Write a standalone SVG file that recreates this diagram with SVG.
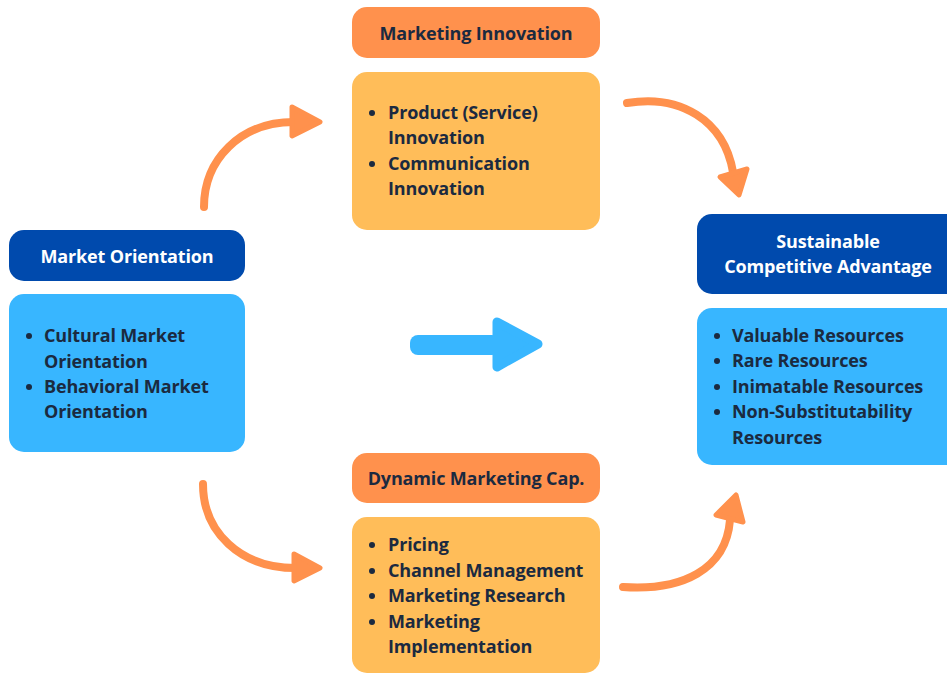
<svg xmlns="http://www.w3.org/2000/svg" width="947" height="675" viewBox="0 0 947 675">
  <defs>
    <style>
      .t { font-family: "Open Sans", "Liberation Sans", sans-serif; font-weight: 700; font-size: 18px; letter-spacing: -0.15px; }
      .dark { fill: #1B2A40; }
      .light { fill: #FFFFFF; }
      .mid { text-anchor: middle; }
      .hdr-orange { fill: #FF914D; }
      .body-orange { fill: #FFBD59; }
      .hdr-blue { fill: #004AAD; }
      .body-blue { fill: #38B6FF; }
      .curve { fill: none; stroke: #FF914D; stroke-width: 8; stroke-linecap: round; }
      .head { fill: #FF914D; stroke: #FF914D; stroke-width: 5; stroke-linejoin: round; }
    </style>
  </defs>
  <rect width="947" height="675" fill="#FFFFFF"/>

  <!-- Market Orientation -->
  <g id="market-orientation">
    <rect class="hdr-blue" x="9" y="230" width="236" height="51" rx="15"/>
    <text class="t light mid" x="127" y="263">Market Orientation</text>
    <rect class="body-blue" x="9" y="294" width="236" height="158" rx="15"/>
    <g class="t dark">
      <circle cx="29" cy="336" r="3"/>
      <text x="44" y="342">Cultural Market</text>
      <text x="44" y="368">Orientation</text>
      <circle cx="29" cy="387" r="3"/>
      <text x="44" y="393">Behavioral Market</text>
      <text x="44" y="418">Orientation</text>
    </g>
  </g>

  <!-- Marketing Innovation -->
  <g id="marketing-innovation">
    <rect class="hdr-orange" x="352" y="7" width="248" height="51" rx="15"/>
    <text class="t dark mid" x="476" y="40">Marketing Innovation</text>
    <rect class="body-orange" x="352" y="72" width="248" height="158" rx="15"/>
    <g class="t dark">
      <circle cx="372" cy="113" r="3"/>
      <text x="388" y="119">Product (Service)</text>
      <text x="388" y="144">Innovation</text>
      <circle cx="372" cy="164" r="3"/>
      <text x="388" y="170">Communication</text>
      <text x="388" y="195">Innovation</text>
    </g>
  </g>

  <!-- Dynamic Marketing Capabilities -->
  <g id="dynamic-marketing-cap">
    <rect class="hdr-orange" x="352" y="453" width="248" height="50" rx="15"/>
    <text class="t dark mid" x="476" y="485">Dynamic Marketing Cap.</text>
    <rect class="body-orange" x="352" y="517" width="248" height="156" rx="15"/>
    <g class="t dark">
      <circle cx="372" cy="545" r="3"/>
      <text x="388" y="551">Pricing</text>
      <circle cx="372" cy="571" r="3"/>
      <text x="388" y="577">Channel Management</text>
      <circle cx="372" cy="596" r="3"/>
      <text x="388" y="602">Marketing Research</text>
      <circle cx="372" cy="622" r="3"/>
      <text x="388" y="628">Marketing</text>
      <text x="388" y="653">Implementation</text>
    </g>
  </g>

  <!-- Sustainable Competitive Advantage -->
  <g id="sustainable-competitive-advantage">
    <rect class="hdr-blue" x="697" y="214" width="270" height="80" rx="15"/>
    <text class="t light mid" x="828" y="248">Sustainable</text>
    <text class="t light mid" x="828" y="273">Competitive Advantage</text>
    <rect class="body-blue" x="697" y="308" width="270" height="157" rx="15"/>
    <g class="t dark">
      <circle cx="717" cy="336" r="3"/>
      <text x="732" y="342">Valuable Resources</text>
      <circle cx="717" cy="361" r="3"/>
      <text x="732" y="367">Rare Resources</text>
      <circle cx="717" cy="387" r="3"/>
      <text x="732" y="393">Inimatable Resources</text>
      <circle cx="717" cy="412" r="3"/>
      <text x="732" y="418">Non-Substitutability</text>
      <text x="732" y="444">Resources</text>
    </g>
  </g>

  <!-- Connectors -->
  <g id="connectors">
    <!-- Market Orientation to Marketing Innovation -->
    <path class="curve" d="M204,207 C204,160 240,122 294,122"/>
    <polygon class="head" points="292,107 320,122 292,136"/>
    <!-- Marketing Innovation to Sustainable Competitive Advantage -->
    <path class="curve" d="M627,103 C680,94 724,120 733,172"/>
    <polygon class="head" points="720,177 747,169 739,195"/>
    <!-- Market Orientation to Dynamic Marketing Cap. -->
    <path class="curve" d="M203,484 C203,532 240,568 296,568"/>
    <polygon class="head" points="294,554 320,568 294,581"/>
    <!-- Dynamic Marketing Cap. to Sustainable Competitive Advantage -->
    <path class="curve" d="M623,587 C682,591 726,570 730,520"/>
    <polygon class="head" points="716,515 736,495 743,522"/>
    <!-- Market Orientation to Sustainable Competitive Advantage -->
    <g id="direct-arrow" fill="#38B6FF" stroke="#38B6FF" stroke-linejoin="round">
      <rect x="410" y="335" width="90" height="20" rx="8" stroke="none"/>
      <polygon points="497,322 538,344 497,367" stroke-width="9"/>
    </g>
  </g>
</svg>
